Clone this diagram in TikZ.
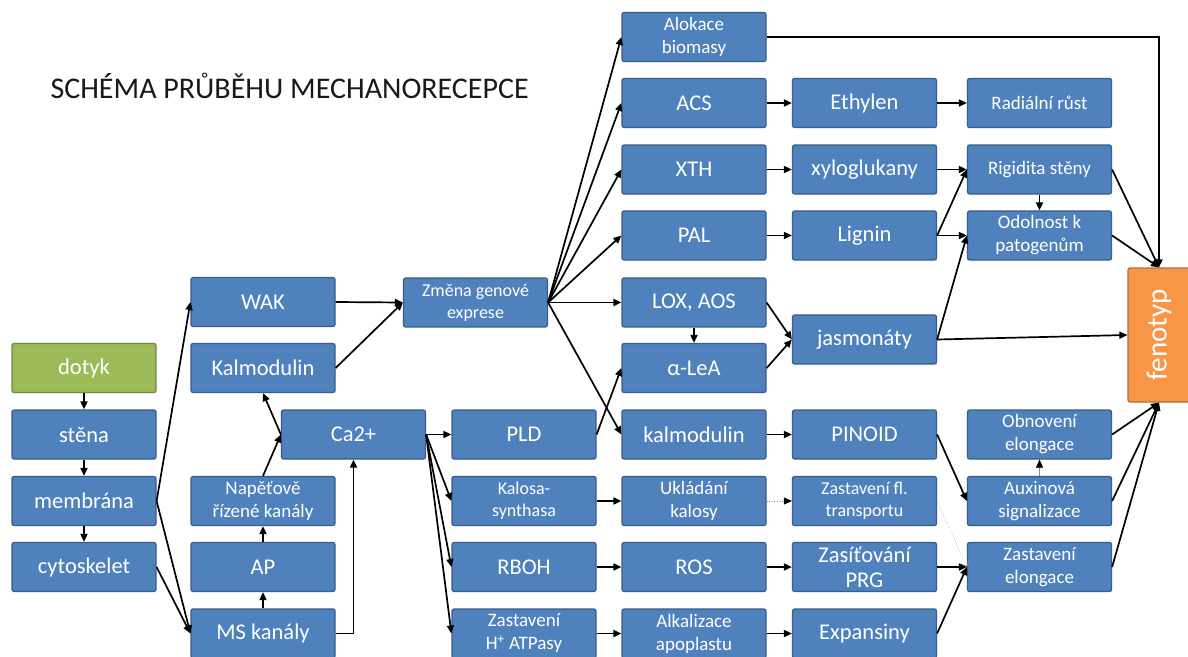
\documentclass[tikz,border=0pt]{standalone}
\usepackage{fontspec}
\setmainfont{Carlito}
\usetikzlibrary{arrows.meta}
\definecolor{boxblue}{HTML}{4F81BD}
\definecolor{boxedge}{HTML}{385D8A}
\definecolor{boxgreen}{HTML}{9BBB59}
\definecolor{greenedge}{HTML}{71893F}
\definecolor{boxorange}{HTML}{F79646}
\definecolor{orangeedge}{HTML}{B66D31}
\definecolor{faintgray}{HTML}{8C8C8C}
\begin{document}
\begin{tikzpicture}[x=1pt,y=-1pt,
  box/.style={draw=boxedge, line width=1.2pt, fill=boxblue, text=white,
    minimum width=144pt, minimum height=49pt, inner sep=1pt, align=center,
    font=\fontsize{22.5}{26}\selectfont, rounded corners=2pt},
  small/.style={font=\fontsize{19}{23}\selectfont},
  smaller/.style={font=\fontsize{18}{22}\selectfont},
  arr/.style={-{Triangle[length=8pt,width=7pt]}, line width=1.7pt},
  faint/.style={-{Triangle[length=8pt,width=7pt,color=black]}, line width=0.6pt, draw=faintgray, dotted},
  faintopen/.style={-{Straight Barb[length=5pt,width=9pt,color=faintgray]}, line width=0.6pt, draw=faintgray, dotted},
]
\useasboundingbox (0,0) rectangle (1188,656);
\fill[white] (0,0) rectangle (1188,656);

\node[anchor=west, font=\fontsize{30}{34}\selectfont, text=black!90] (title) at (47,86) {SCHÉMA PRŮBĚHU MECHANORECEPCE};

% column A
\node[box, fill=boxgreen, draw=greenedge] (dotyk) at (84,368) {dotyk};
\node[box] (stena) at (84,434.5) {stěna};
\node[box] (membrana) at (84,501) {membrána};
\node[box] (cyto) at (84,567) {cytoskelet};
% column B
\node[box] (wak) at (263,302) {WAK};
\node[box] (kalm1) at (263,368) {Kalmodulin};
\node[box, small] (napet) at (263,501) {Napěťově\\řízené kanály};
\node[box] (ap) at (263,567) {AP};
\node[box] (ms) at (263,633.5) {MS kanály};
\node[box] (ca) at (353.5,434.5) {Ca2+};
\node[box, smaller] (zmena) at (475.5,302.5) {Změna genové\\exprese};
% column C
\node[box] (pld) at (524,434.5) {PLD};
\node[box, smaller] (kalosa) at (524,501) {Kalosa-\\synthasa};
\node[box] (rboh) at (524,567) {RBOH};
\node[box, small] (zasth) at (524,633.5) {Zastavení\\H\textsuperscript{+} ATPasy};
% column D
\node[box, small] (alok) at (694,37) {Alokace\\biomasy};
\node[box] (acs) at (694,103) {ACS};
\node[box] (xth) at (694,169.5) {XTH};
\node[box] (pal) at (694,235.5) {PAL};
\node[box] (lox) at (694,302.5) {LOX, AOS};
\node[box] (alea) at (694,368) {α-LeA};
\node[box] (kalm2) at (694,434.5) {kalmodulin};
\node[box, small] (uklad) at (694,501) {Ukládání\\kalosy};
\node[box] (ros) at (694,567) {ROS};
\node[box, small] (alkal) at (694,633.5) {Alkalizace\\apoplastu};
% column E
\node[box] (eth) at (864.5,103) {Ethylen};
\node[box] (xylo) at (864.5,169.5) {xyloglukany};
\node[box] (lignin) at (864.5,235.5) {Lignin};
\node[box] (jasm) at (864.5,339.5) {jasmonáty};
\node[box] (pinoid) at (864.5,434.5) {PINOID};
\node[box, smaller] (zastfl) at (864.5,501) {Zastavení fl.\\transportu};
\node[box, font=\fontsize{22.5}{25}\selectfont] (zasit) at (864.5,567) {Zasíťování\\PRG};
\node[box] (expans) at (864.5,633.5) {Expansiny};
% column F
\node[box, small] (radial) at (1039.5,103) {Radiální růst};
\node[box, small] (rigid) at (1039.5,169.5) {Rigidita stěny};
\node[box, small] (odol) at (1039.5,235.5) {Odolnost k\\patogenům};
\node[box, small] (obnov) at (1039.5,434.5) {Obnovení\\elongace};
\node[box, small] (auxin) at (1039.5,501) {Auxinová\\signalizace};
\node[box, small] (zastel) at (1039.5,567) {Zastavení\\elongace};
% fenotyp
\node[box, fill=boxorange, draw=orangeedge, minimum width=62pt, minimum height=134pt,
  font=\fontsize{29}{32}\selectfont] (fenotyp) at (1159,335) {\rotatebox{90}{fenotyp}};

% arrows column A/B
\draw[arr] (dotyk) -- (stena);
\draw[arr] (stena) -- (membrana);
\draw[arr] (membrana) -- (cyto);
\draw[arr] (membrana.east) -- (wak.west);
\draw[arr] (membrana.east) -- (ms.west);
\draw[arr] (cyto.east) -- (ms.west);
\draw[arr] (ms) -- (ap);
\draw[arr] (ap) -- (napet);
\draw[arr] (napet.north) -- (ca.west);
\draw[arr] (ca.west) -- (kalm1.south);
\draw[arr] (ms.east) -| (ca.south);
\draw[arr] (wak.east) -- (zmena.west);
\draw[arr] (kalm1.east) -- (zmena.west);
% Ca2+ fan
\draw[arr] (ca.east) -- (pld.west);
\draw[arr] (ca.east) -- (kalosa.west);
\draw[arr] (ca.east) -- (rboh.west);
\draw[arr] (ca.east) -- (zasth.west);
% gene expression fan
\draw[arr] (zmena.east) -- (alok.west);
\draw[arr] (zmena.east) -- (acs.west);
\draw[arr] (zmena.east) -- (xth.west);
\draw[arr] (zmena.east) -- (pal.west);
\draw[arr] (zmena.east) -- (lox.west);
\draw[arr] (zmena.east) -- (kalm2.west);
% middle
\draw[arr] (pld.east) -- (alea.west);
\draw[arr] (lox) -- (alea);
\draw[arr] (lox.east) -- (jasm.west);
\draw[arr] (alea.east) -- (jasm.west);
\draw[arr] (acs) -- (eth);
\draw[arr] (eth) -- (radial);
\draw[arr] (xth) -- (xylo);
\draw[arr] (xylo) -- (rigid);
\draw[arr] (pal) -- (lignin);
\draw[arr] (lignin.east) -- (rigid.west);
\draw[arr] (lignin.east) -- (odol.west);
\draw[arr] (jasm.east) -- (odol.west);
\draw[arr] (jasm.east) -- (fenotyp.west);
\draw[arr] (rigid) -- (odol);
\draw[arr] (alok.east) -| (fenotyp.north);
\draw[arr] (rigid.east) -- (fenotyp.north);
\draw[arr] (odol.east) -- (fenotyp.north);
% lower
\draw[arr] (kalm2) -- (pinoid);
\draw[arr] (pinoid.east) -- (auxin.west);
\draw[faint, solid] (auxin) -- (obnov);
\draw[arr] (obnov.east) -- (fenotyp.south);
\draw[arr] (auxin.east) -- (fenotyp.south);
\draw[arr] (zastel.east) -- (fenotyp.south);
\draw[arr] (kalosa) -- (uklad);
\draw[faint] (uklad) -- (zastfl);
\draw[faintopen] (zastfl.east) -- (zastel.west);
\draw[arr] (rboh) -- (ros);
\draw[arr] (ros) -- (zasit);
\draw[arr] (zasit) -- (zastel);
\draw[arr] (zasth) -- (alkal);
\draw[arr] (alkal) -- (expans);
\draw[arr] (expans.east) -- (zastel.west);
\end{tikzpicture}
\end{document}
